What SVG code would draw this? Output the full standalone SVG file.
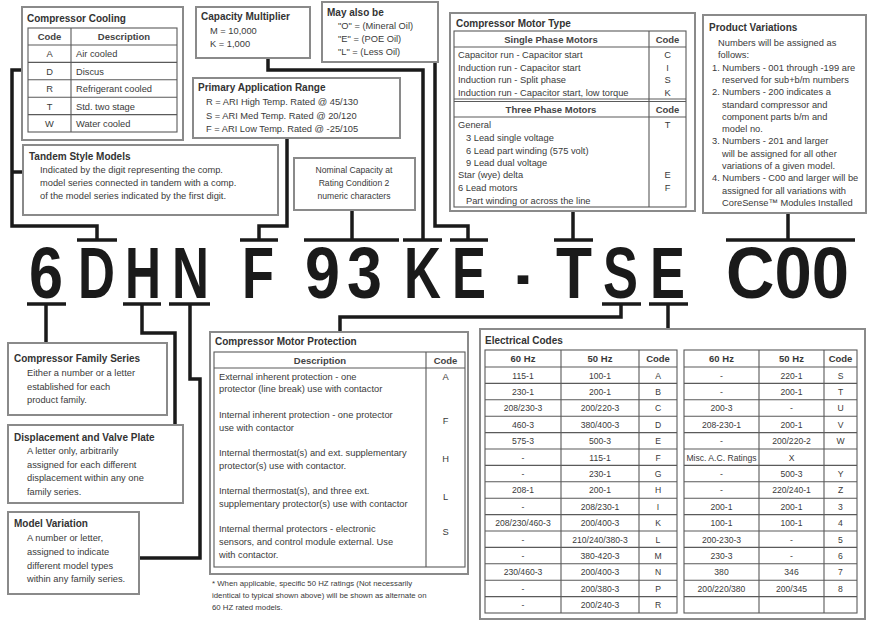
<svg xmlns="http://www.w3.org/2000/svg" width="871" height="623" viewBox="0 0 871 623">
<style>
text{font-family:"Liberation Sans",Arial,sans-serif;fill:#3a3a3a}
.box{fill:#fff;stroke:#8a8a8a;stroke-width:2}
.tbl{fill:none;stroke:#5a5a5a;stroke-width:1.1}
.ttl{font-size:10px;font-weight:bold;fill:#333}
.b{font-size:9.3px}
.s{font-size:8.6px}
.c{text-anchor:middle}
.h{font-size:9.5px;font-weight:bold;fill:#444}
.fn{font-size:7.8px}
.big{font-size:62px;font-weight:bold;fill:#1a1a1a}
.con{fill:none;stroke:#1a1a1a;stroke-width:3.5;stroke-linejoin:miter}
</style>

<g id="connectors">
<path class="con" d="M22,70 H12 V226 H97 V240"/>
<path class="con" d="M12,172 H23"/>
<path class="con" d="M287,138 V226 H259 V240"/>
<path class="con" d="M352,210 V240"/>
<path class="con" d="M268,58 V70 H423 V240"/>
<path class="con" d="M435,62 V226 H468 V240"/>
<path class="con" d="M573,211 V240"/>
<path class="con" d="M788,213 V240"/>
<path class="con" d="M46,304 V343"/>
<path class="con" d="M142,304 V333 H175 V425"/>
<path class="con" d="M190,304 V379 H200 V558 H139"/>
<path class="con" d="M621,304 V317 H340 V332"/>
<path class="con" d="M668,304 V329"/>
<g class="con">
<path d="M77,240 H117"/>
<path d="M240,240 H278"/>
<path d="M304,240 H399"/>
<path d="M403,240 H442"/>
<path d="M450,240 H488"/>
<path d="M554,240 H593"/>
<path d="M726,240 H855"/>
<path d="M27,304 H66"/>
<path d="M123,304 H161"/>
<path d="M169,304 H210"/>
<path d="M602,304 H641"/>
<path d="M649,304 H688"/>
</g>
</g>

<g id="model-number" transform="scale(1,1.17)">
<text class="big" x="29" y="254.7" textLength="34" lengthAdjust="spacingAndGlyphs">6</text>
<text class="big" x="78" y="254.7" textLength="37" lengthAdjust="spacingAndGlyphs">D</text>
<text class="big" x="125" y="254.7" textLength="36" lengthAdjust="spacingAndGlyphs">H</text>
<text class="big" x="172" y="254.7" textLength="37" lengthAdjust="spacingAndGlyphs">N</text>
<text class="big" x="242" y="254.7" textLength="32" lengthAdjust="spacingAndGlyphs">F</text>
<text class="big" x="305" y="254.7" textLength="35" lengthAdjust="spacingAndGlyphs">9</text>
<text class="big" x="347" y="254.7" textLength="35" lengthAdjust="spacingAndGlyphs">3</text>
<text class="big" x="404" y="254.7" textLength="37" lengthAdjust="spacingAndGlyphs">K</text>
<text class="big" x="452" y="254.7" textLength="34" lengthAdjust="spacingAndGlyphs">E</text>
<text class="big" x="516" y="254.7" textLength="14" lengthAdjust="spacingAndGlyphs">-</text>
<text class="big" x="556" y="254.7" textLength="36" lengthAdjust="spacingAndGlyphs">T</text>
<text class="big" x="603" y="254.7" textLength="35" lengthAdjust="spacingAndGlyphs">S</text>
<text class="big" x="650" y="254.7" textLength="35" lengthAdjust="spacingAndGlyphs">E</text>
<text class="big" x="726" y="254.7" textLength="123" lengthAdjust="spacingAndGlyphs">C00</text>
</g>

<g id="compressor-cooling">
<rect class="box" x="22" y="7" width="161" height="133"/>
<text class="ttl" x="27" y="22">Compressor Cooling</text>
<rect class="tbl" x="28" y="28" width="149" height="104"/>
<path class="tbl" d="M71,28 V132 M28,45 H177 M28,62.4 H177 M28,79.8 H177 M28,97.2 H177 M28,114.6 H177"/>
<text class="h c" x="49.5" y="40">Code</text>
<text class="h c" x="124" y="40">Description</text>
<g class="b">
<text class="c" x="49.5" y="57">A</text><text x="76" y="57">Air cooled</text>
<text class="c" x="49.5" y="74.5">D</text><text x="76" y="74.5">Discus</text>
<text class="c" x="49.5" y="92">R</text><text x="76" y="92">Refrigerant cooled</text>
<text class="c" x="49.5" y="109.5">T</text><text x="76" y="109.5">Std. two stage</text>
<text class="c" x="49.5" y="127">W</text><text x="76" y="127">Water cooled</text>
</g>
</g>

<g id="capacity-multiplier">
<rect class="box" x="196" y="7" width="114" height="51"/>
<text class="ttl" x="201" y="20">Capacity Multiplier</text>
<text class="b" x="210" y="34">M = 10,000</text>
<text class="b" x="210" y="47">K = 1,000</text>
</g>

<g id="may-also-be">
<rect class="box" x="322" y="2" width="116" height="60"/>
<text class="ttl" x="327" y="16">May also be</text>
<text class="b" x="338" y="29">"O" = (Mineral Oil)</text>
<text class="b" x="338" y="42">"E" = (POE Oil)</text>
<text class="b" x="338" y="55">"L" = (Less Oil)</text>
</g>

<g id="primary-application-range">
<rect class="box" x="193" y="78" width="207" height="60"/>
<text class="ttl" x="198" y="91">Primary Application Range</text>
<text class="b" x="206" y="105">R = ARI High Temp. Rated @ 45/130</text>
<text class="b" x="206" y="119">S = ARI Med Temp. Rated @ 20/120</text>
<text class="b" x="206" y="132">F = ARI Low Temp. Rated @ -25/105</text>
</g>

<g id="tandem-style-models">
<rect class="box" x="23" y="145" width="255" height="70"/>
<text class="ttl" x="29" y="160">Tandem Style Models</text>
<text class="b" x="40" y="173">Indicated by the digit representing the comp.</text>
<text class="b" x="40" y="186">model series connected in tandem with a comp.</text>
<text class="b" x="40" y="199">of the model series indicated by the first digit.</text>
</g>

<g id="nominal-capacity">
<rect class="box" x="294" y="158" width="121" height="52"/>
<text class="s c" x="354" y="173">Nominal Capacity at</text>
<text class="s c" x="354" y="186">Rating Condition 2</text>
<text class="s c" x="354" y="199">numeric characters</text>
</g>

<g id="compressor-motor-type">
<rect class="box" x="450" y="13" width="245" height="198"/>
<text class="ttl" x="456" y="27">Compressor Motor Type</text>
<rect class="tbl" x="454" y="31" width="232" height="176"/>
<path class="tbl" d="M649,31 V207 M454,47 H686 M454,99 H686 M454,101.5 H686 M454,117 H686"/>
<text class="h c" x="551" y="43">Single Phase Motors</text>
<text class="h c" x="667.5" y="43">Code</text>
<g class="b">
<text x="458" y="58">Capacitor run - Capacitor start</text><text class="c" x="667.5" y="58">C</text>
<text x="458" y="71">Induction run - Capacitor start</text><text class="c" x="667.5" y="71">I</text>
<text x="458" y="83">Induction run - Split phase</text><text class="c" x="667.5" y="83">S</text>
<text x="458" y="96">Induction run - Capacitor start, low torque</text><text class="c" x="667.5" y="96">K</text>
</g>
<text class="h c" x="551" y="113">Three Phase Motors</text>
<text class="h c" x="667.5" y="113">Code</text>
<g class="b">
<text x="458" y="128">General</text><text class="c" x="667.5" y="128">T</text>
<text x="466" y="141">3 Lead single voltage</text>
<text x="466" y="154">6 Lead part winding (575 volt)</text>
<text x="466" y="166">9 Lead dual voltage</text>
<text x="458" y="178">Star (wye) delta</text><text class="c" x="667.5" y="178">E</text>
<text x="458" y="191">6 Lead motors</text><text class="c" x="667.5" y="191">F</text>
<text x="466" y="204">Part winding or across the line</text>
</g>
</g>

<g id="product-variations">
<rect class="box" x="703" y="15" width="163" height="198"/>
<text class="ttl" x="709" y="31">Product Variations</text>
<g class="b">
<text x="718" y="46">Numbers will be assigned as</text>
<text x="718" y="58.3">follows:</text>
<text x="712" y="70.6">1. Numbers - 001 through -199 are</text>
<text x="722" y="82.9">reserved for sub+b/m numbers</text>
<text x="712" y="95.2">2. Numbers - 200 indicates a</text>
<text x="722" y="107.5">standard compressor and</text>
<text x="722" y="119.8">component parts b/m and</text>
<text x="722" y="132.1">model no.</text>
<text x="712" y="144.4">3. Numbers - 201 and larger</text>
<text x="722" y="156.7">will be assigned for all other</text>
<text x="722" y="169">variations of a given model.</text>
<text x="712" y="181.3">4. Numbers - C00 and larger will be</text>
<text x="722" y="193.6">assigned for all variations with</text>
<text x="722" y="205.9">CoreSense™ Modules Installed</text>
</g>
</g>

<g id="compressor-family-series">
<rect class="box" x="8" y="343" width="159" height="72"/>
<text class="ttl" x="14" y="362">Compressor Family Series</text>
<text class="b" x="27" y="376">Either a number or a letter</text>
<text class="b" x="27" y="390">established for each</text>
<text class="b" x="27" y="403">product family.</text>
</g>

<g id="displacement-valve-plate">
<rect class="box" x="8" y="425" width="175" height="78"/>
<text class="ttl" x="14" y="441">Displacement and Valve Plate</text>
<text class="b" x="27" y="454">A letter only, arbitrarily</text>
<text class="b" x="27" y="468">assigned for each different</text>
<text class="b" x="27" y="481">displacement within any one</text>
<text class="b" x="27" y="495">family series.</text>
</g>

<g id="model-variation">
<rect class="box" x="8" y="512" width="131" height="82"/>
<text class="ttl" x="14" y="527">Model Variation</text>
<text class="b" x="27" y="541">A number or letter,</text>
<text class="b" x="27" y="555">assigned to indicate</text>
<text class="b" x="27" y="569">different model types</text>
<text class="b" x="27" y="582">within any family series.</text>
</g>

<g id="compressor-motor-protection">
<rect class="box" x="210" y="332" width="258" height="242"/>
<text class="ttl" x="215" y="345">Compressor Motor Protection</text>
<rect class="tbl" x="214" y="352" width="251" height="215"/>
<path class="tbl" d="M426,352 V567 M214,368 H465"/>
<text class="h c" x="320" y="364">Description</text>
<text class="h c" x="445.5" y="364">Code</text>
<g class="b">
<text x="219" y="380">External inherent protection  - one</text>
<text x="219" y="392">protector (line break) use with contactor</text>
<text class="c" x="445.5" y="380">A</text>
<text x="219" y="418">Internal inherent protection - one protector</text>
<text x="219" y="431">use with contactor</text>
<text class="c" x="445.5" y="424">F</text>
<text x="219" y="456">Internal thermostat(s) and ext. supplementary</text>
<text x="219" y="469">protector(s) use with contactor.</text>
<text class="c" x="445.5" y="462">H</text>
<text x="219" y="494">Internal thermostat(s), and three ext.</text>
<text x="219" y="507">supplementary protector(s) use with contactor</text>
<text class="c" x="445.5" y="500">L</text>
<text x="219" y="532">Internal thermal protectors - electronic</text>
<text x="219" y="545">sensors, and control module external. Use</text>
<text x="219" y="558">with contactor.</text>
<text class="c" x="445.5" y="535">S</text>
</g>
<text class="fn" x="212" y="586">* When applicable, specific 50 HZ ratings (Not necessarily</text>
<text class="fn" x="212" y="598">identical to typical shown above) will be shown as alternate on</text>
<text class="fn" x="212" y="610">60 HZ rated models.</text>
</g>

<g id="electrical-codes">
<rect class="box" x="480" y="329" width="385" height="290"/>
<text class="ttl" x="485" y="344">Electrical Codes</text>
<rect class="tbl" x="485" y="350" width="192" height="263"/>
<rect class="tbl" x="684" y="350" width="173" height="263"/>
<path class="tbl" d="M561,350 V613 M639,350 V613 M759,350 V613 M824,350 V613
M485,367 H677 M485,383.4 H677 M485,399.8 H677 M485,416.2 H677 M485,432.6 H677 M485,449 H677 M485,465.4 H677 M485,481.8 H677 M485,498.2 H677 M485,514.6 H677 M485,531 H677 M485,547.4 H677 M485,563.8 H677 M485,580.2 H677 M485,596.6 H677
M684,367 H857 M684,383.4 H857 M684,399.8 H857 M684,416.2 H857 M684,432.6 H857 M684,449 H857 M684,465.4 H857 M684,481.8 H857 M684,498.2 H857 M684,514.6 H857 M684,531 H857 M684,547.4 H857 M684,563.8 H857 M684,580.2 H857 M684,596.6 H857"/>
<g class="h c">
<text x="523" y="362">60 Hz</text><text x="600" y="362">50 Hz</text><text x="658" y="362">Code</text>
<text x="721.5" y="362">60 Hz</text><text x="791.5" y="362">50 Hz</text><text x="840.5" y="362">Code</text>
</g>
<g class="s c">
<text x="523" y="378.5">115-1</text><text x="600" y="378.5">100-1</text><text x="658" y="378.5">A</text>
<text x="523" y="394.9">230-1</text><text x="600" y="394.9">200-1</text><text x="658" y="394.9">B</text>
<text x="523" y="411.3">208/230-3</text><text x="600" y="411.3">200/220-3</text><text x="658" y="411.3">C</text>
<text x="523" y="427.7">460-3</text><text x="600" y="427.7">380/400-3</text><text x="658" y="427.7">D</text>
<text x="523" y="444.1">575-3</text><text x="600" y="444.1">500-3</text><text x="658" y="444.1">E</text>
<text x="523" y="460.5">-</text><text x="600" y="460.5">115-1</text><text x="658" y="460.5">F</text>
<text x="523" y="476.9">-</text><text x="600" y="476.9">230-1</text><text x="658" y="476.9">G</text>
<text x="523" y="493.3">208-1</text><text x="600" y="493.3">200-1</text><text x="658" y="493.3">H</text>
<text x="523" y="509.7">-</text><text x="600" y="509.7">208/230-1</text><text x="658" y="509.7">I</text>
<text x="523" y="526.1">208/230/460-3</text><text x="600" y="526.1">200/400-3</text><text x="658" y="526.1">K</text>
<text x="523" y="542.5">-</text><text x="600" y="542.5">210/240/380-3</text><text x="658" y="542.5">L</text>
<text x="523" y="558.9">-</text><text x="600" y="558.9">380-420-3</text><text x="658" y="558.9">M</text>
<text x="523" y="575.3">230/460-3</text><text x="600" y="575.3">200/400-3</text><text x="658" y="575.3">N</text>
<text x="523" y="591.7">-</text><text x="600" y="591.7">200/380-3</text><text x="658" y="591.7">P</text>
<text x="523" y="608.1">-</text><text x="600" y="608.1">200/240-3</text><text x="658" y="608.1">R</text>

<text x="721.5" y="378.5">-</text><text x="791.5" y="378.5">220-1</text><text x="840.5" y="378.5">S</text>
<text x="721.5" y="394.9">-</text><text x="791.5" y="394.9">200-1</text><text x="840.5" y="394.9">T</text>
<text x="721.5" y="411.3">200-3</text><text x="791.5" y="411.3">-</text><text x="840.5" y="411.3">U</text>
<text x="721.5" y="427.7">208-230-1</text><text x="791.5" y="427.7">200-1</text><text x="840.5" y="427.7">V</text>
<text x="721.5" y="444.1">-</text><text x="791.5" y="444.1">200/220-2</text><text x="840.5" y="444.1">W</text>
<text x="721.5" y="460.5">Misc. A.C. Ratings</text><text x="791.5" y="460.5">X</text>
<text x="721.5" y="476.9">-</text><text x="791.5" y="476.9">500-3</text><text x="840.5" y="476.9">Y</text>
<text x="721.5" y="493.3">-</text><text x="791.5" y="493.3">220/240-1</text><text x="840.5" y="493.3">Z</text>
<text x="721.5" y="509.7">200-1</text><text x="791.5" y="509.7">200-1</text><text x="840.5" y="509.7">3</text>
<text x="721.5" y="526.1">100-1</text><text x="791.5" y="526.1">100-1</text><text x="840.5" y="526.1">4</text>
<text x="721.5" y="542.5">200-230-3</text><text x="791.5" y="542.5">-</text><text x="840.5" y="542.5">5</text>
<text x="721.5" y="558.9">230-3</text><text x="791.5" y="558.9">-</text><text x="840.5" y="558.9">6</text>
<text x="721.5" y="575.3">380</text><text x="791.5" y="575.3">346</text><text x="840.5" y="575.3">7</text>
<text x="721.5" y="591.7">200/220/380</text><text x="791.5" y="591.7">200/345</text><text x="840.5" y="591.7">8</text>
</g>
</g>
</svg>
